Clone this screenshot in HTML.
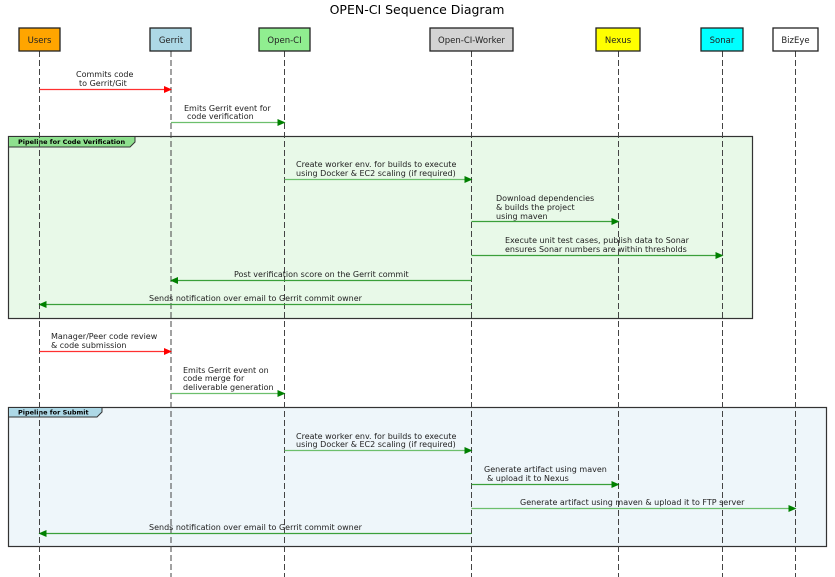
<!DOCTYPE html>
<html><head><meta charset="utf-8"><style>body{margin:0;background:#fff}svg{display:block}text{font-family:"DejaVu Sans","Liberation Sans",sans-serif;fill:#222}</style></head><body>
<svg width="835" height="577" viewBox="0 0 835 577" xmlns="http://www.w3.org/2000/svg">
<defs>
<marker id="ag" markerWidth="8" markerHeight="8" refX="7" refY="3.5" orient="auto" markerUnits="userSpaceOnUse"><path d="M0,0 L8,3.5 L0,7 z" fill="#008000"/></marker>
<marker id="ar" markerWidth="8" markerHeight="8" refX="7" refY="3.5" orient="auto" markerUnits="userSpaceOnUse"><path d="M0,0 L8,3.5 L0,7 z" fill="#ff0000"/></marker>
</defs>
<text x="417" y="14" font-size="12.5" text-anchor="middle" style="fill:#000">OPEN-CI Sequence Diagram</text>
<!-- frames -->
<rect x="8.5" y="136.5" width="744" height="182" fill="#e8f9e8" stroke="#333" stroke-width="1.2"/>
<path d="M8.5,136.5 H135 V142 L130,147 H8.5 z" fill="#8ee08e" stroke="#333"/>
<text x="18" y="144" font-size="6.5" font-weight="bold" style="fill:#000">Pipeline for Code Verification</text>
<rect x="8.5" y="407.5" width="818" height="139" fill="#eef6fa" stroke="#333" stroke-width="1.2"/>
<path d="M8.5,407.5 H102 V412 L97,417 H8.5 z" fill="#add8e6" stroke="#333"/>
<text x="18" y="414.5" font-size="6.5" font-weight="bold" style="fill:#000">Pipeline for Submit</text>
<!-- lifelines -->
<g stroke="#444" stroke-width="1" stroke-dasharray="6,3">
<line x1="39.5" y1="51" x2="39.5" y2="577"/><line x1="171" y1="51" x2="171" y2="577"/>
<line x1="284.5" y1="51" x2="284.5" y2="577"/><line x1="471.5" y1="51" x2="471.5" y2="577"/>
<line x1="618.5" y1="51" x2="618.5" y2="577"/><line x1="722.5" y1="51" x2="722.5" y2="577"/>
<line x1="795.5" y1="51" x2="795.5" y2="577"/></g>
<!-- participants -->
<g stroke="#222" stroke-width="1.3" font-size="8.5">
<rect x="19" y="28" width="41" height="23" fill="#ffa500"/><rect x="150" y="28" width="41" height="23" fill="#add8e6"/>
<rect x="259" y="28" width="51" height="23" fill="#90ee90"/><rect x="430" y="28" width="83" height="23" fill="#d3d3d3"/>
<rect x="596" y="28" width="44" height="23" fill="#ffff00"/><rect x="701" y="28" width="42" height="23" fill="#00ffff"/>
<rect x="773" y="28" width="45" height="23" fill="#fff"/></g>
<g font-size="8.5" text-anchor="middle">
<text x="39.5" y="43">Users</text><text x="171" y="43">Gerrit</text><text x="284.5" y="43">Open-CI</text>
<text x="471.5" y="43">Open-CI-Worker</text><text x="618" y="43">Nexus</text><text x="722" y="43">Sonar</text><text x="795.5" y="43">BizEye</text></g>
<!-- messages -->
<g fill="none" stroke-width="1.3">
<line x1="39.5" y1="89.5" x2="171" y2="89.5" stroke="#ff3030" marker-end="url(#ar)"/>
<line x1="171" y1="122.5" x2="284.5" y2="122.5" stroke="#6cbf6c" marker-end="url(#ag)"/>
<line x1="284.5" y1="179.5" x2="471.5" y2="179.5" stroke="#6cbf6c" marker-end="url(#ag)"/>
<line x1="471.5" y1="221.5" x2="618.5" y2="221.5" stroke="#3aa03a" marker-end="url(#ag)"/>
<line x1="471.5" y1="255.5" x2="722.5" y2="255.5" stroke="#3aa03a" marker-end="url(#ag)"/>
<line x1="471.5" y1="280.5" x2="171" y2="280.5" stroke="#3aa03a" marker-end="url(#ag)"/>
<line x1="471.5" y1="304.5" x2="39.5" y2="304.5" stroke="#3aa03a" marker-end="url(#ag)"/>
<line x1="39.5" y1="351.5" x2="171" y2="351.5" stroke="#ff3030" marker-end="url(#ar)"/>
<line x1="171" y1="393.5" x2="284.5" y2="393.5" stroke="#6cbf6c" marker-end="url(#ag)"/>
<line x1="284.5" y1="450.5" x2="471.5" y2="450.5" stroke="#6cbf6c" marker-end="url(#ag)"/>
<line x1="471.5" y1="484.5" x2="618.5" y2="484.5" stroke="#3aa03a" marker-end="url(#ag)"/>
<line x1="471.5" y1="508.5" x2="795.5" y2="508.5" stroke="#6cbf6c" marker-end="url(#ag)"/>
<line x1="471.5" y1="533.5" x2="39.5" y2="533.5" stroke="#3aa03a" marker-end="url(#ag)"/>
</g>
<g font-size="8">
<text x="76" y="77">Commits code</text><text x="79" y="86">to Gerrit/Git</text>
<text x="184" y="111">Emits Gerrit event for</text><text x="187" y="119">code verification</text>
<text x="296" y="167">Create worker env. for builds to execute</text><text x="296" y="176">using Docker &amp; EC2 scaling (if required)</text>
<text x="496" y="201">Download dependencies</text><text x="496" y="210">&amp; builds the project</text><text x="496" y="219">using maven</text>
<text x="505" y="243">Execute unit test cases, publish data to Sonar</text><text x="505" y="252">ensures Sonar numbers are within thresholds</text>
<text x="234" y="277">Post verification score on the Gerrit commit</text>
<text x="149" y="301">Sends notification over email to Gerrit commit owner</text>
<text x="51" y="339">Manager/Peer code review</text><text x="51" y="348">&amp; code submission</text>
<text x="183" y="373">Emits Gerrit event on</text><text x="183" y="381">code merge for</text><text x="183" y="390">deliverable generation</text>
<text x="296" y="439">Create worker env. for builds to execute</text><text x="296" y="447">using Docker &amp; EC2 scaling (if required)</text>
<text x="484" y="472">Generate artifact using maven</text><text x="487" y="481">&amp; upload it to Nexus</text>
<text x="520" y="505">Generate artifact using maven &amp; upload it to FTP server</text>
<text x="149" y="530">Sends notification over email to Gerrit commit owner</text>
</g>
</svg>
</body></html>
